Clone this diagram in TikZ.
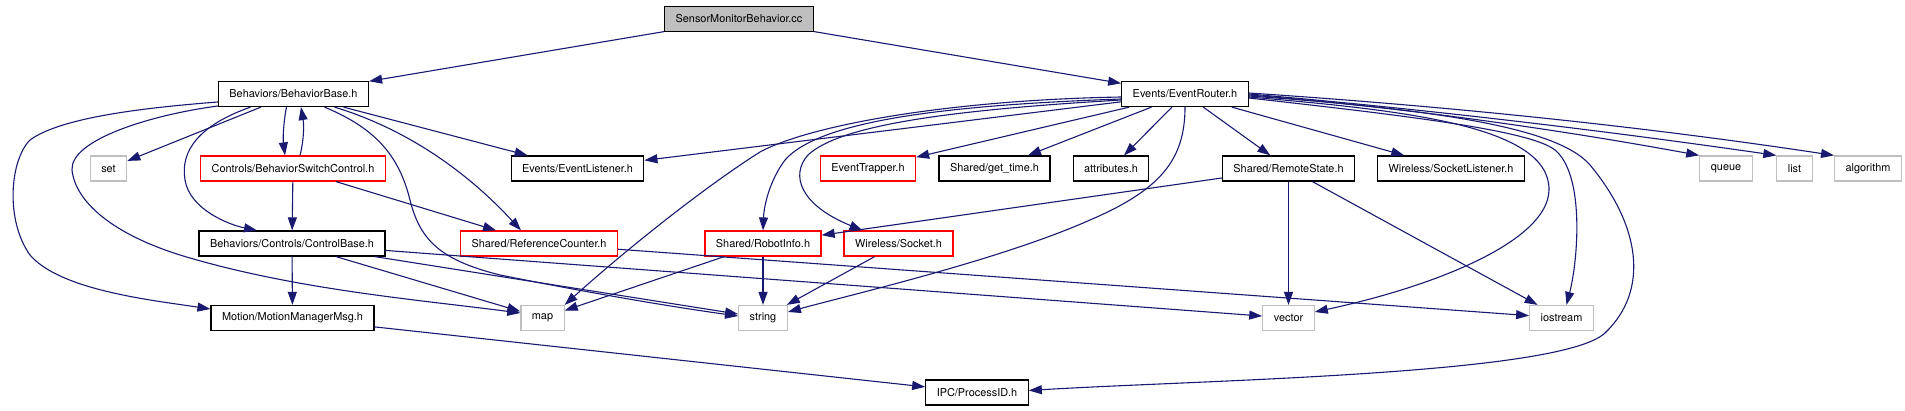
\documentclass[tikz,border=0pt]{standalone}
\usepackage{fontspec}
\setmainfont{TeX Gyre Heros}
\usepackage{xcolor}
\usepackage{tikz}
\usetikzlibrary{arrows.meta}
\definecolor{midblue}{HTML}{191970}
\definecolor{greyb}{HTML}{BFBFBF}
\tikzstyle{filebox}=[rectangle,draw=black,line width=1.2pt,minimum height=25pt,inner xsep=11pt,inner ysep=0pt,font=\fontsize{10.9}{13}\selectfont]
\tikzstyle{truncbox}=[filebox,draw=red]
\tikzstyle{sysbox}=[filebox,draw=greyb]
\tikzstyle{rootbox}=[filebox,fill=greyb]
\tikzstyle{dep} = [draw,color=midblue,line width=1.1pt,-{Triangle[length=13pt,width=9pt]}]

\begin{document}
\begin{tikzpicture}[x=1pt,y=-1pt]
 \useasboundingbox (0,0) rectangle (1905,411);

 \node[rootbox] (smb) at (739,19) {SensorMonitorBehavior.cc};

 \foreach \x/\y/\name/\label in {293.5/94/bbase/{Behaviors/BehaviorBase.h}, 1185/94/router/{Events/EventRouter.h},
      577.5/168.5/listener/{Events/EventListener.h}, 994.5/168.5/gettime/{Shared/get\_time.h}, 1111/168.5/attrib/attributes.h,
      1288.5/168.5/remote/{Shared/RemoteState.h}, 1451/168.5/socklisten/{Wireless/SocketListener.h},
      292/243.5/ctrlbase/{Behaviors/Controls/ControlBase.h}, 292.5/318/motion/{Motion/MotionManagerMsg.h}, 977/392.5/procid/{IPC/ProcessID.h}}
    \node[filebox] (\name) at (\x,\y) {\label};

 \foreach \x/\y/\name/\label in {293/168.5/bswitch/{Controls/BehaviorSwitchControl.h}, 868/168.5/trapper/EventTrapper.h,
      539/243.5/refcount/{Shared/ReferenceCounter.h}, 763/243.5/robotinfo/{Shared/RobotInfo.h}, 898.5/243.5/socket/{Wireless/Socket.h}}
    \node[truncbox] (\name) at (\x,\y) {\label};

 \foreach \x/\y/\name/\label in {108.5/168.5/set/set, 1726/168.5/queue/queue, 1794.5/168.5/list/list, 1868/168.5/algo/algorithm,
      542.5/318/map/map, 763/318/string/string, 1288.5/318/vector/vector, 1561.5/318/iostream/iostream}
    \node[sysbox] (\name) at (\x,\y) {\label};

 \foreach \source/\dest in {smb/bbase, smb/router, bbase/set, bbase/listener, bswitch/ctrlbase, bswitch/refcount,
      ctrlbase/motion, ctrlbase/map, ctrlbase/string, ctrlbase/vector, refcount/iostream, motion/procid,
      robotinfo/map, robotinfo/string, socket/string, remote/robotinfo, remote/vector, remote/iostream,
      router/listener, router/trapper, router/gettime, router/attrib, router/remote, router/socklisten}
    \path[dep] (\source) -- (\dest);

 % curved ones
 \path[dep] ([xshift=-7pt]bbase.south) .. controls (283,125) and (283,140) .. ([xshift=-8pt]bswitch.north);
 \path[dep] ([xshift=7pt]bswitch.north) .. controls (304,140) and (304,125) .. ([xshift=7.5pt]bbase.south);
 \path[dep] ([xshift=-43pt]bbase.south) .. controls (200,125) and (180,150) .. (185,180)
      .. controls (190,210) and (230,225) .. ([xshift=-35pt]ctrlbase.north);
 \path[dep] ([yshift=-8pt]bbase.west) .. controls (140,108) and (60,118) .. (30,140)
      .. controls (10,160) and (5,220) .. (30,255) .. controls (60,290) and (150,300) .. ([yshift=9pt]motion.west);
 \path[dep] ([yshift=-12pt]bbase.west) .. controls (150,115) and (70,140) .. (72,170)
      .. controls (75,200) and (110,235) .. (190,258) .. controls (300,290) and (420,300) .. ([yshift=5pt]map.west);
 \path[dep] ([xshift=31pt]bbase.south) .. controls (380,130) and (400,160) .. (410,200)
      .. controls (420,240) and (440,260) .. (500,275) .. controls (600,295) and (680,308) .. ([yshift=2pt]string.west);
 \path[dep] ([xshift=41pt]bbase.south) .. controls (410,130) and (470,175) .. ([xshift=-18pt]refcount.north);

 \path[dep] ([yshift=-3pt]router.west) .. controls (950,100) and (810,125) .. (760,152)
      .. controls (700,190) and (620,255) .. (map.north east);
 \path[dep] ([yshift=-5pt]router.west) .. controls (950,105) and (820,120) .. (785,160)
      .. controls (770,180) and (764,205) .. (robotinfo.north);
 \path[dep] ([yshift=-6pt]router.west) .. controls (950,110) and (840,125) .. (808,155)
      .. controls (790,175) and (800,205) .. ([xshift=-36pt]socket.north);
 \path[dep] (router.south) .. controls (1185,160) and (1160,190) .. (1090,220)
      .. controls (1000,260) and (850,295) .. ([yshift=6pt]string.east);
 \path[dep] ([yshift=-1pt]router.east) .. controls (1399,107) and (1550,128) .. (queue.north west);
 \path[dep] (router.east) .. controls (1424,109) and (1600,130) .. (list.north west);
 \path[dep] ([yshift=1pt]router.east) .. controls (1445,106) and (1640,126) .. (algo.north west);
 \path[dep] ([yshift=-3pt]router.east) .. controls (1400,110) and (1550,125) .. (1549,190)
      .. controls (1548,240) and (1440,285) .. ([yshift=6pt]vector.east);
 \path[dep] ([yshift=-4pt]router.east) .. controls (1400,115) and (1530,130) .. (1555,150)
      .. controls (1585,175) and (1578,260) .. ([xshift=5pt]iostream.north);
 \path[dep] ([yshift=-2pt]router.east) .. controls (1450,110) and (1560,130) .. (1590,165)
      .. controls (1640,225) and (1650,290) .. (1605,333) .. controls (1560,375) and (1200,380) .. ([yshift=2pt]procid.east);

\end{tikzpicture}
\end{document}
